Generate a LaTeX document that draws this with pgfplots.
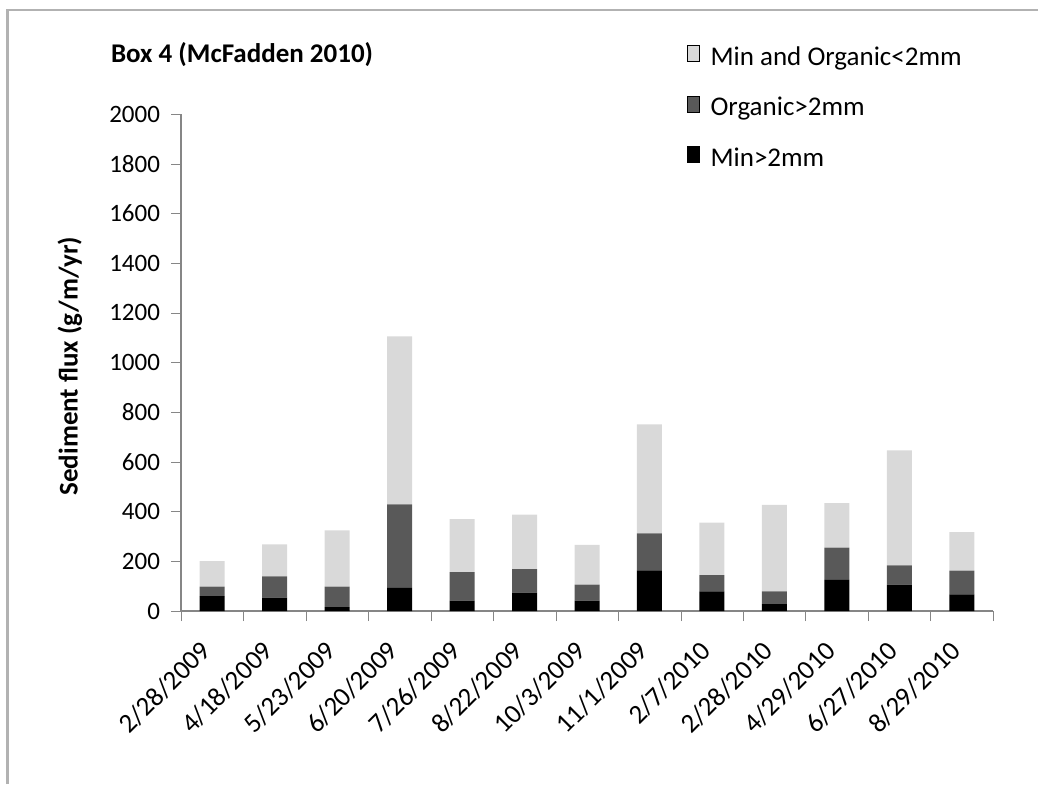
\documentclass[border=0pt]{standalone}
\usepackage{pgfplots}
\pgfplotsset{compat=1.18}
\usepackage{pgfplotstable}
\usepackage{fontspec}
\setmainfont{Carlito}
\definecolor{lightbar}{HTML}{D9D9D9}
\definecolor{darkbar}{HTML}{595959}
\definecolor{axisgray}{HTML}{868686}
\pgfplotstableread{
x black dark light
0 60 38 103
1 54 85 129
2 16 82 226
3 93 336 676
4 42 114 214
5 74 95 219
6 42 64 160
7 164 148 439
8 79 65 212
9 28 51 348
10 125 130 179
11 106 78 462
12 67 96 154
}\datatable
\begin{document}
\begin{tikzpicture}
\useasboundingbox (0pt,0pt) rectangle (519pt,392pt);
\draw[gray!60, line width=1.2pt] (3.8pt,0pt) -- (3.8pt,387pt) -- (519pt,387pt);
\node[anchor=west, font=\bfseries\fontsize{13.5}{16}\selectfont] at (52pt,364.5pt) {Box 4 (McFadden 2010)};
\node[rotate=90, font=\bfseries\fontsize{13.5}{15}\selectfont] at (35pt,209pt) {Sediment flux (g/m/yr)};
\begin{axis}[
  at={(90.5pt,86.5pt)}, anchor=south west,
  scale only axis, width=406pt, height=248.5pt,
  ybar stacked, bar width=12.5pt,
  xmin=-0.5, xmax=12.5, ymin=0, ymax=2000,
  ytick={0,200,...,2000},
  xtick={0,...,12},
  xticklabels={2/28/2009,4/18/2009,5/23/2009,6/20/2009,7/26/2009,8/22/2009,10/3/2009,11/1/2009,2/7/2010,2/28/2010,4/29/2010,6/27/2010,8/29/2010},
  minor xtick={-0.5,0.5,...,12.5},
  major x tick style={draw=none},
  minor x tick style={axisgray},
  minor tick length=5pt,
  major tick length=5pt,
  tick align=outside,
  axis x line*=bottom, axis y line*=left,
  axis line style={axisgray, line width=0.8pt},
  y axis line style={-}, x axis line style={-},
  ytick style={axisgray},
  /pgf/number format/assume math mode=true,
  /pgf/number format/1000 sep={},
  xticklabel style={font=\fontsize{13.5}{16}\selectfont, rotate=45, anchor=north east, xshift=-7.6pt, yshift=1.8pt},
  yticklabel style={font=\fontsize{12.5}{15}\selectfont, xshift=-2pt},
  legend style={at={(0.615,1.153)}, anchor=north west, draw=none, fill=none,
    font=\fontsize{13.5}{16}\selectfont, row sep=10.5pt, column sep=3.5pt, cells={anchor=west}},
  legend cell align=left,
  reverse legend,
  /pgfplots/ybar legend/.style={/pgfplots/legend image code/.code={\fill[##1] (0pt,-3.5pt) rectangle (7pt,3.5pt);}},
]
\addplot[fill=black, draw=none] table[x=x, y=black] {\datatable};
\addplot[fill=darkbar, draw=none] table[x=x, y=dark] {\datatable};
\addplot[fill=lightbar, draw=none] table[x=x, y=light] {\datatable};
\legend{Min>2mm, Organic>2mm, Min and Organic<2mm}
\end{axis}
\end{tikzpicture}
\end{document}
